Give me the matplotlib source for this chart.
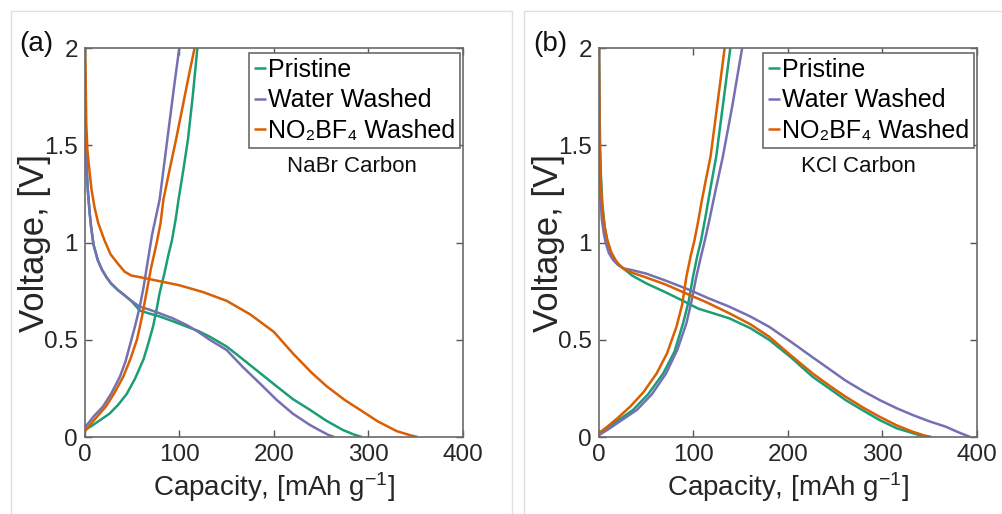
import matplotlib
matplotlib.use('Agg')
import matplotlib.pyplot as plt
from matplotlib.patches import Rectangle

# NaBr carbon (a)
a_pri_dis_x = [0, 0.2, 0.5, 1, 2, 3, 5, 6.5, 9, 13.5, 18, 23, 27.5, 35, 44, 49, 58, 68, 79, 93, 108, 120, 132, 150, 167, 185, 203, 220, 238, 255, 273, 285, 293]
a_pri_dis_y = [2.0, 1.85, 1.68, 1.5, 1.36, 1.27, 1.15, 1.08, 0.99, 0.91, 0.86, 0.82, 0.79, 0.755, 0.72, 0.70, 0.65, 0.635, 0.62, 0.595, 0.567, 0.545, 0.516, 0.465, 0.40, 0.33, 0.26, 0.195, 0.14, 0.085, 0.036, 0.012, 0.0]
a_pri_chg_x = [0, 8, 17, 26, 35, 44, 53, 62, 67, 72, 76, 79, 84, 88, 92, 96, 99, 104, 109, 114, 119]
a_pri_chg_y = [0.036, 0.06, 0.09, 0.12, 0.165, 0.22, 0.30, 0.40, 0.48, 0.567, 0.66, 0.74, 0.84, 0.93, 1.01, 1.12, 1.22, 1.37, 1.53, 1.75, 2.0]

a_wat_dis_x = [0, 0.2, 0.5, 1, 2, 3, 5, 6.5, 9, 13.5, 18, 23, 27.5, 35, 44, 49, 58, 68, 79, 93, 108, 120, 132, 150, 167, 185, 203, 220, 238, 250, 258, 264]
a_wat_dis_y = [2.0, 1.85, 1.68, 1.5, 1.36, 1.27, 1.15, 1.08, 0.99, 0.91, 0.86, 0.82, 0.79, 0.755, 0.72, 0.70, 0.67, 0.655, 0.636, 0.61, 0.575, 0.54, 0.50, 0.447, 0.36, 0.276, 0.19, 0.12, 0.062, 0.03, 0.01, 0.0]
a_wat_chg_x = [0, 5, 10, 19, 28, 37, 43, 48, 53, 58, 62, 65, 68, 71, 75, 79, 84, 89, 94, 99.8]
a_wat_chg_y = [0.05, 0.08, 0.11, 0.156, 0.225, 0.31, 0.39, 0.48, 0.57, 0.67, 0.77, 0.86, 0.95, 1.04, 1.13, 1.22, 1.41, 1.6, 1.79, 2.0]

a_no2_dis_x = [0, 0.5, 1, 1.4, 2.5, 5, 7, 10, 14, 20.5, 27, 35, 42, 49, 60, 80, 100, 125, 150, 175, 200, 220, 240, 256, 275, 291, 310, 330, 345, 352]
a_no2_dis_y = [2.0, 1.9, 1.75, 1.61, 1.48, 1.356, 1.27, 1.184, 1.1, 1.013, 0.94, 0.89, 0.85, 0.83, 0.82, 0.80, 0.78, 0.745, 0.70, 0.63, 0.54, 0.43, 0.33, 0.26, 0.19, 0.14, 0.08, 0.03, 0.008, 0.0]
a_no2_chg_x = [0, 5, 12, 22, 31, 40.5, 48, 55, 60, 65, 70, 76, 80, 83, 90, 96, 103, 110, 116]
a_no2_chg_y = [0.03, 0.06, 0.1, 0.156, 0.225, 0.31, 0.40, 0.50, 0.61, 0.74, 0.87, 1.0, 1.1, 1.22, 1.385, 1.52, 1.69, 1.86, 2.0]

# KCl carbon (b)
b_pri_dis_x = [0, 0.3, 0.7, 1.2, 2, 3.5, 6, 9, 13, 18, 25.7, 35, 50, 70, 89, 105, 121, 138, 160, 180, 203, 226, 245, 261, 280, 297, 315, 332, 340, 346]
b_pri_dis_y = [2.0, 1.85, 1.65, 1.5, 1.35, 1.2, 1.08, 1.0, 0.94, 0.90, 0.867, 0.83, 0.79, 0.745, 0.70, 0.66, 0.636, 0.61, 0.56, 0.50, 0.41, 0.31, 0.245, 0.19, 0.135, 0.087, 0.045, 0.02, 0.008, 0.0]
b_pri_chg_x = [0, 8, 20, 36, 52, 68, 80, 89, 95, 99.5, 104, 108, 113, 118, 124, 131, 139]
b_pri_chg_y = [0.02, 0.045, 0.085, 0.139, 0.22, 0.327, 0.44, 0.585, 0.70, 0.824, 0.93, 1.01, 1.14, 1.28, 1.44, 1.70, 2.0]

b_wat_dis_x = [0, 0.2, 0.5, 1, 1.8, 3, 5, 7, 10.5, 15, 20, 25.7, 35, 50, 70, 96, 115, 138, 160, 180, 203, 226, 245, 261, 280, 297, 315, 332, 350, 367, 380, 393]
b_wat_dis_y = [2.0, 1.8, 1.6, 1.4, 1.22, 1.12, 1.05, 1.0, 0.945, 0.91, 0.885, 0.867, 0.858, 0.84, 0.805, 0.756, 0.715, 0.67, 0.62, 0.567, 0.49, 0.41, 0.345, 0.29, 0.235, 0.19, 0.148, 0.113, 0.08, 0.053, 0.025, 0.0]
b_wat_chg_x = [0, 10, 22, 40, 56, 71, 83, 92.5, 98, 103, 108, 112, 117, 123, 131, 141, 151.5]
b_wat_chg_y = [0.01, 0.04, 0.08, 0.139, 0.22, 0.327, 0.45, 0.585, 0.70, 0.824, 0.93, 1.01, 1.12, 1.26, 1.44, 1.70, 2.0]

b_no2_dis_x = [0, 0.3, 0.5, 1, 2, 3.5, 6, 9, 13, 17.5, 22, 28, 35, 50, 70, 96, 115, 138, 160, 180, 203, 226, 245, 261, 280, 297, 315, 332, 345, 352]
b_no2_dis_y = [2.0, 1.8, 1.53, 1.42, 1.3, 1.18, 1.08, 1.01, 0.95, 0.91, 0.88, 0.86, 0.845, 0.82, 0.785, 0.73, 0.69, 0.636, 0.58, 0.516, 0.42, 0.327, 0.26, 0.207, 0.15, 0.104, 0.06, 0.027, 0.007, 0.0]
b_no2_chg_x = [0, 8, 18, 33, 47, 61, 72, 82, 88, 92.5, 97, 101, 105, 109, 113, 118, 125, 133]
b_no2_chg_y = [0.02, 0.05, 0.09, 0.156, 0.23, 0.327, 0.43, 0.567, 0.68, 0.824, 0.93, 1.01, 1.11, 1.22, 1.32, 1.44, 1.70, 2.0]

labels = ['Pristine', 'Water Washed', 'NO\u2082BF\u2084 Washed']
colors = ['#1b9e77', '#7570b3', '#d95f02']

plt.rcParams['font.family'] = ['Liberation Sans', 'DejaVu Sans']
plt.rcParams['mathtext.default'] = 'regular'

fig = plt.figure(figsize=(10.02, 5.14), dpi=100)

# light frames around the two panels
fig.patches.append(Rectangle((11 / 1002, -0.01), 501 / 1002, 1 - 11 / 514 + 0.01, transform=fig.transFigure,
                             fill=False, edgecolor='#e0e0e0', lw=1))
fig.patches.append(Rectangle((524 / 1002, -0.01), 0.5, 1 - 11 / 514 + 0.01, transform=fig.transFigure,
                             fill=False, edgecolor='#e0e0e0', lw=1))

panels = [
    ('(a)', 'NaBr Carbon', 0.0848,
     [(a_pri_dis_x, a_pri_dis_y, a_pri_chg_x, a_pri_chg_y),
      (a_wat_dis_x, a_wat_dis_y, a_wat_chg_x, a_wat_chg_y),
      (a_no2_dis_x, a_no2_dis_y, a_no2_chg_x, a_no2_chg_y)]),
    ('(b)', 'KCl Carbon', 0.5978,
     [(b_pri_dis_x, b_pri_dis_y, b_pri_chg_x, b_pri_chg_y),
      (b_wat_dis_x, b_wat_dis_y, b_wat_chg_x, b_wat_chg_y),
      (b_no2_dis_x, b_no2_dis_y, b_no2_chg_x, b_no2_chg_y)]),
]

for tag, name, left, series in panels:
    ax = fig.add_axes([left, 0.1498, 0.3772, 0.7568])
    for (dx, dy, cx, cy), lab, c in zip(series, labels, colors):
        ax.plot(dx, dy, color=c, lw=1.8, label=lab, solid_capstyle='butt')
        ax.plot(cx, cy, color=c, lw=1.8, solid_capstyle='butt')
    ax.set_xlim(0, 400)
    ax.set_ylim(0, 2)
    ax.set_xticks([0, 100, 200, 300, 400])
    ax.set_yticks([0, 0.5, 1, 1.5, 2])
    ax.set_yticklabels(['0', '0.5', '1', '1.5', '2'])
    ax.tick_params(direction='in', top=True, right=True, length=5, width=1,
                   color='#555555', labelcolor='#262626', labelsize=17.5, pad=5)
    for s in ax.spines.values():
        s.set_color('#6a6a6a')
        s.set_linewidth(1.2)
    ax.set_xlabel('Capacity, [mAh g$^{-1}$]', fontsize=20, color='#262626', labelpad=3)
    ax.set_ylabel('Voltage, [V]', fontsize=25, color='#262626')
    ax.yaxis.set_label_coords(-0.09, 0.5)
    leg = ax.legend(loc='upper right', bbox_to_anchor=(0.993, 0.987), fontsize=18,
                    handlelength=0.45, handletextpad=0.1, borderpad=0.2, labelspacing=0.25,
                    fancybox=False, framealpha=1, edgecolor='#6a6a6a', borderaxespad=0)
    leg.get_frame().set_linewidth(1.2)
    ax.text(0.535, 0.695, name, transform=ax.transAxes, fontsize=16, color='#111111',
            ha='left', va='center')
    ax.text(-0.175, 1.01, tag, transform=ax.transAxes, fontsize=20, color='#111111',
            ha='left', va='center')

fig.savefig('out.png', dpi=100)
